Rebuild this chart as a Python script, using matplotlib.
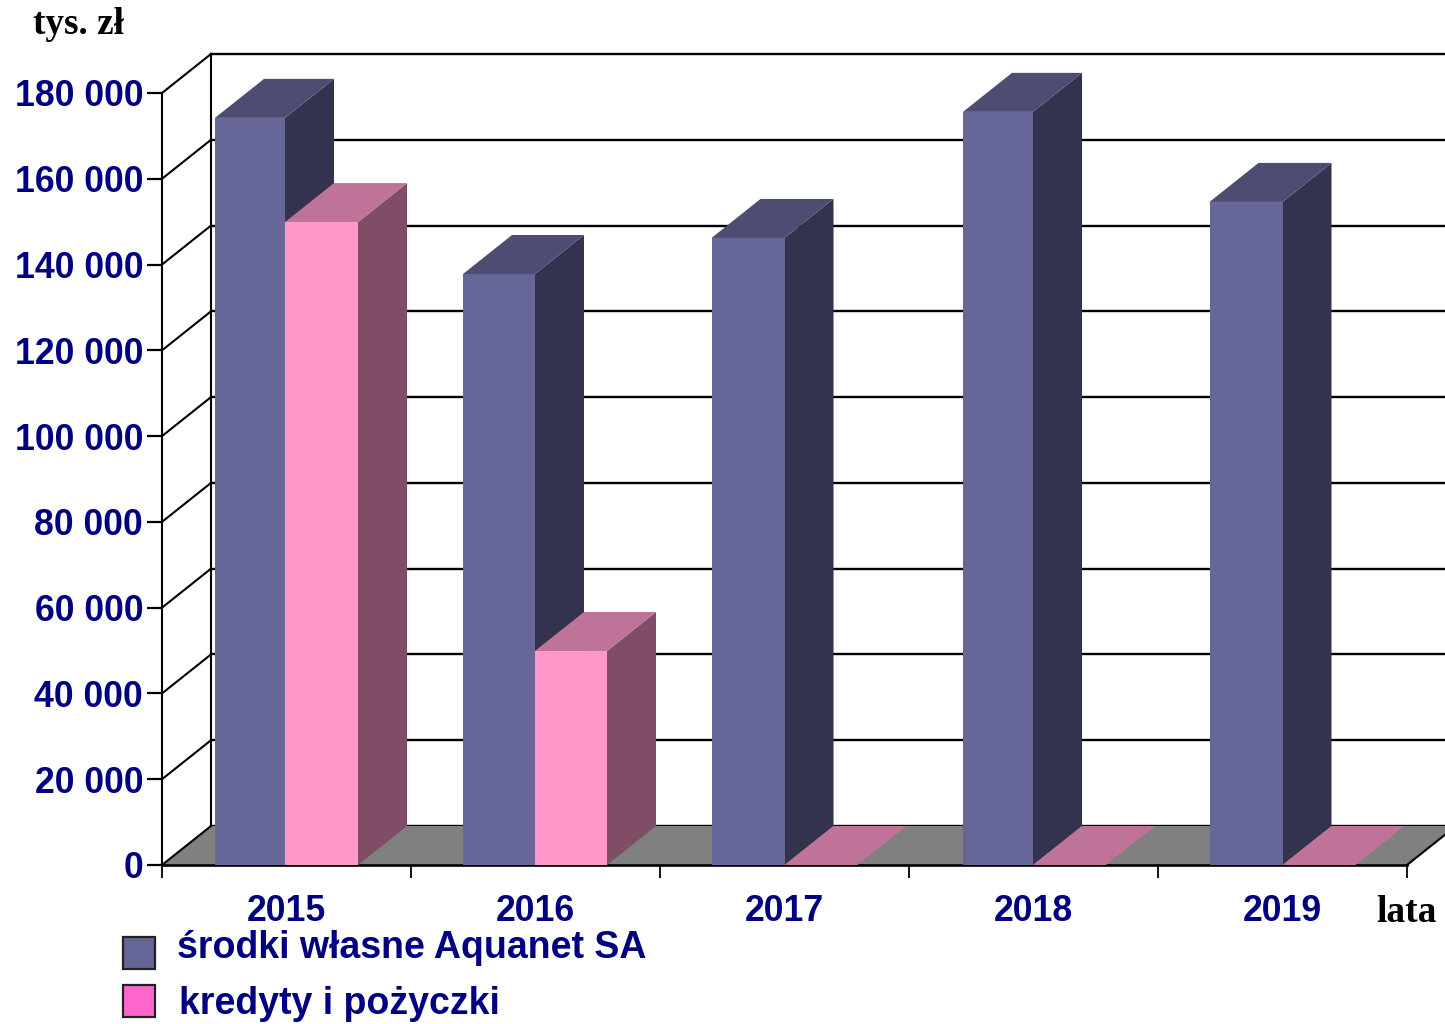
import matplotlib
matplotlib.use('Agg')
import matplotlib.pyplot as plt
from matplotlib.patches import Polygon, Rectangle

years = ['2015', '2016', '2017', '2018', '2019']
own_funds = [174200, 137800, 146200, 175600, 154600]
loans = [149900, 49900, 0, 0, 0]
y_ticks = [0, 20000, 40000, 60000, 80000, 100000, 120000, 140000, 160000, 180000]
y_labels = ['0', '20 000', '40 000', '60 000', '80 000', '100 000', '120 000', '140 000', '160 000', '180 000']

W, H = 1445, 1024
NAVY = '#000080'

fig = plt.figure(figsize=(W / 100, H / 100), dpi=100, facecolor='white')
ax = fig.add_axes([162 / W, (H - 865) / H, 1245 / W, 772 / H])
ax.set_xlim(0, 5)
ax.set_ylim(0, 180000)
ax.patch.set_visible(False)
for s in ax.spines.values():
    s.set_visible(False)

# depth of the fake 3d box, in data units
dx = 49 / 249
dy = 39 / 772 * 180000
px = 1 / 249
# the bars are not quite evenly placed in the original
pink_w = [73 * px, 72 * px, 73 * px, 73 * px, 73 * px]
blue_w = [70 * px, 72 * px, 73 * px, 70 * px, 73 * px]
shift = [-1.5 * px, -0.5 * px, 0, -0.5 * px, 0]


def poly(points, color, z, edge='none'):
    ax.add_patch(Polygon(points, closed=True, facecolor=color, edgecolor=edge,
                         linewidth=0.6, zorder=z, clip_on=False))


def line(xs, ys, z=1, lw=1.7):
    ax.plot(xs, ys, color='black', linewidth=lw, zorder=z, clip_on=False,
            solid_capstyle='projecting')


def bar3d(x0, x1, value, front, side, top, z):
    poly([(x1, 0), (x1 + dx, dy), (x1 + dx, value + dy), (x1, value)], side, z)
    poly([(x0, value), (x0 + dx, value + dy), (x1 + dx, value + dy), (x1, value)], top, z)
    if value > 0:
        poly([(x0, 0), (x1, 0), (x1, value), (x0, value)], front, z + 0.1)


# walls and floor
poly([(0, 0), (dx, dy), (5 + dx, dy), (5, 0)], '#808080', 2)
for v in y_ticks:
    line([dx, 5.2], [v + dy, v + dy], z=1)
    line([0, dx], [v, v + dy], z=3, lw=1.5)
line([0, 0], [0, 180000], z=3, lw=1.5)
line([dx, dx], [dy, 180000 + dy], z=1, lw=1.5)
line([0, 5], [0, 0], z=3, lw=1.9)
line([5, 5 + dx], [0, dy], z=3, lw=1.5)

for i in range(len(years)):
    z = 4 + i
    mid = i + 0.5 + shift[i]
    bar3d(mid - blue_w[i], mid, own_funds[i], '#666699', '#333350', '#4d4d73', z)
    bar3d(mid, mid + pink_w[i], loans[i], '#ff99cc', '#804d66', '#bf7399', z + 0.3)

# axes ticks and labels
ax.set_yticks(y_ticks, y_labels)
ax.tick_params(axis='y', length=10.5, width=1.6, pad=3, labelcolor=NAVY, labelsize=25.7)
ax.set_xticks(range(6), [''] * 6)
ax.tick_params(axis='x', which='major', length=9, width=1.3)
ax.set_xticks([i + 0.5 for i in range(5)], years, minor=True)
ax.tick_params(axis='x', which='minor', length=0, pad=21.2, labelcolor=NAVY, labelsize=25.7)
for t in ax.get_yticklabels() + ax.get_xticklabels(minor=True):
    t.set_family('Liberation Sans')
    t.set_fontweight('bold')

fig.text(33 / W, 1 - 25 / H, 'tys. zł', family='Liberation Serif', fontweight='bold',
         fontsize=26.8, va='center', ha='left', color='black')
fig.text(1406 / W, 1 - 913 / H, 'lata', family='Liberation Serif', fontweight='bold',
         fontsize=27, va='center', ha='center', color='black')

# legend
legend_items = ['środki własne Aquanet SA', 'kredyty i pożyczki']
legend_colors = ['#666699', '#ff66cc']
for label, col, box_y, text_x, text_y in zip(legend_items, legend_colors, [969, 1017], [177, 179], [948, 1004]):
    fig.add_artist(Rectangle((123 / W, 1 - box_y / H), 32 / W, 32 / H, transform=fig.transFigure,
                             facecolor=col, edgecolor='#222222', linewidth=1.6))
    fig.text(text_x / W, 1 - text_y / H, label, family='Liberation Sans', fontweight='bold',
             fontsize=27, color=NAVY, va='center', ha='left')

fig.savefig('out.png', dpi=100)
